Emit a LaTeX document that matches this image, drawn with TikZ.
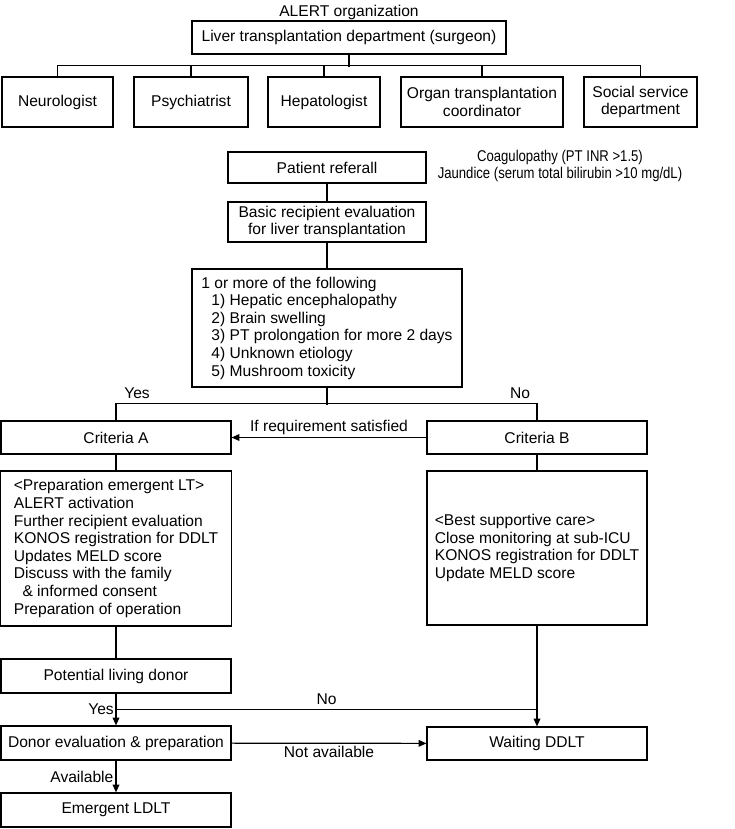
\documentclass[tikz,border=0pt]{standalone}
\usepackage{fontspec}
\setmainfont{Liberation Sans}
\newfontfamily\narrowsans{Liberation Sans}[FakeStretch=0.84]
\usetikzlibrary{positioning,arrows.meta}
\tikzset{
  flowarrow/.style={-{Triangle[length=5.8pt,width=5pt]}},
  conn/.style={line width=0.9pt},
  stepbox/.style={draw, line width=0.9pt, align=center, inner sep=0pt},
  listbox/.style={draw, line width=0.9pt, align=left, inner sep=0pt},
  orgbox/.style={stepbox, minimum height=37.5pt},
  leftcol/.style={stepbox, minimum width=172.5pt, minimum height=25.5pt},
  rightcol/.style={stepbox, minimum width=165pt, minimum height=24.75pt},
  relabel/.style={inner sep=1.5pt}
}

\begin{document}
\begin{tikzpicture}[x=0.75pt, y=-0.75pt, every node/.style={font=\fontsize{11.7}{13.2}\selectfont}]
  \useasboundingbox (0,0) rectangle (735,829);
  % organisation chart
  \node[relabel] (alert) at (349,12.5) {ALERT organization};
  \node[stepbox, minimum width=235.5pt, minimum height=24.75pt] (ltdept) at (349,37.5) {Liver transplantation department (surgeon)};
  \node[orgbox, minimum width=83.25pt] (neuro) at (57.5,102) {Neurologist};
  \node[orgbox, minimum width=85.5pt] (psych) at (191,102) {Psychiatrist};
  \node[orgbox, minimum width=84pt] (hepat) at (324,102) {Hepatologist};
  \node[orgbox, minimum width=121.5pt] (organ) at (482,102) {Organ transplantation\\coordinator};
  \node[orgbox, minimum width=84.75pt] (social) at (640.5,102) {Social service\\department};
  \draw[conn] (ltdept.south) -- ++(0,12);
  \draw[conn] (neuro.north) -- ++(0,-11) -| (social.north);
  \foreach \n in {psych,hepat,organ}
    \draw[conn] (\n.north) -- ++(0,-11);

  % work-up
  \node[stepbox, minimum width=148.5pt, minimum height=23.25pt] (referral) at (327,167.5) {Patient referall};
  \node[align=center, font=\narrowsans\fontsize{11.7}{12.8}\selectfont] (coag) at (560,165.5) {Coagulopathy (PT INR >1.5)\\Jaundice (serum total bilirubin >10 mg/dL)};
  \node[stepbox, minimum width=148.5pt, minimum height=30pt] (basic) at (327,222) {Basic recipient evaluation\\for liver transplantation};
  \node[listbox, minimum width=202.5pt, minimum height=88.5pt] (criteria) at (327,328) {1 or more of the following\\
    \hspace*{7.5pt}1) Hepatic encephalopathy\\
    \hspace*{7.5pt}2) Brain swelling\\
    \hspace*{7.5pt}3) PT prolongation for more 2 days\\
    \hspace*{7.5pt}4) Unknown etiology\\
    \hspace*{7.5pt}5) Mushroom toxicity};
  \draw[conn] (referral) -- (basic);
  \draw[conn] (basic) -- (criteria);

  % criteria A / B
  \node[leftcol, minimum height=24.75pt] (critA) at (116,437.5) {Criteria A};
  \node[rightcol] (critB) at (537,437.5) {Criteria B};
  \draw[conn] (criteria.south) -- ++(0,17);
  \draw[conn] (critA.north) -- ++(0,-17) -| (critB.north);
  \node[relabel] (yesA) at (137,393) {Yes};
  \node[relabel] (noB) at (520,393) {No};
  \draw[conn, flowarrow] (critB) -- node[relabel, above] {If requirement satisfied} (critA);

  \node[listbox, minimum width=173.25pt, minimum height=116.25pt] (prep) at (116,548.5) {<Preparation emergent LT>\\
    ALERT activation\\
    Further recipient evaluation\\
    KONOS registration for DDLT\\
    Updates MELD score\\
    Discuss with the family\\
    \hspace*{6.5pt}\& informed consent\\
    Preparation of operation};
  \node[listbox, minimum width=165pt, minimum height=115.5pt] (best) at (537,548) {<Best supportive care>\\
    Close monitoring at sub-ICU\\
    KONOS registration for DDLT\\
    Update MELD score};
  \draw[conn] (critA) -- (prep);
  \draw[conn] (critB) -- (best);

  % donor
  \node[leftcol] (potential) at (116,676) {Potential living donor};
  \node[leftcol] (deval) at (116,743) {Donor evaluation \& preparation};
  \node[rightcol] (waiting) at (537,743.5) {Waiting DDLT};
  \node[leftcol] (emergent) at (116,810) {Emergent LDLT};
  \draw[conn] (prep) -- (potential);
  \draw[conn, flowarrow] (potential) -- coordinate[midway] (lvjct) (deval);
  \node[relabel, left] (yesLD) at (lvjct) {Yes};
  \draw[conn] (lvjct) -- node[relabel, above, yshift=2pt] {No} (lvjct -| waiting);
  \draw[conn, flowarrow] (best) -- (waiting);
  \draw[conn, flowarrow] (deval) -- node[relabel, below] {Not available} (waiting);
  \draw[conn, flowarrow] (deval) -- node[relabel, left] {Available} (emergent);
\end{tikzpicture}
\end{document}
